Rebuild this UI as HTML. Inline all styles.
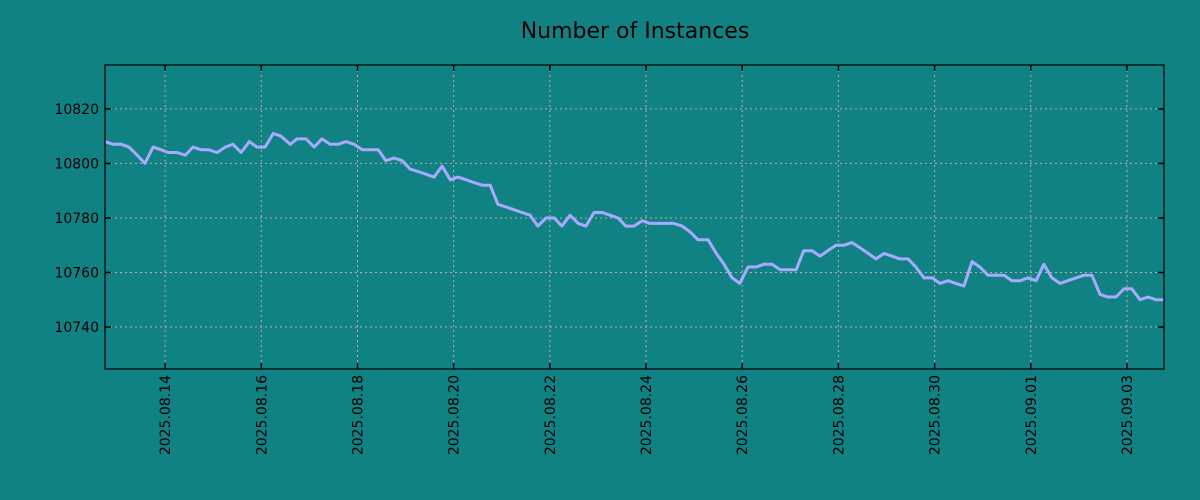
<!DOCTYPE html>
<html><head><meta charset="utf-8"><style>
html,body{margin:0;padding:0;background:#108284;}
svg{display:block;font-family:"DejaVu Sans","Liberation Sans",sans-serif;}
</style></head><body>
<svg width="1200" height="500" viewBox="0 0 1200 500" xmlns="http://www.w3.org/2000/svg">
<rect x="0" y="0" width="1200" height="500" fill="#108284"/>
<text x="635" y="38" text-anchor="middle" font-size="22" fill="#000">Number of Instances</text>
<g id="grid"></g>
<g id="series"></g>
<g id="axes"></g>
</svg>
<script>
const dayOffsets=[-1.25,-1.08,-0.91,-0.75,-0.58,-0.42,-0.25,-0.08,0.06,0.25,0.42,0.58,0.75,0.91,1.08,1.25,1.41,1.58,1.75,1.91,2.08,2.25,2.41,2.60,2.74,2.93,3.10,3.26,3.43,3.60,3.76,3.93,4.10,4.26,4.43,4.59,4.76,4.93,5.09,5.26,5.43,5.59,5.76,5.93,6.09,6.26,6.42,6.59,6.76,6.92,7.09,7.26,7.42,7.59,7.75,7.92,8.09,8.25,8.42,8.59,8.75,8.92,9.09,9.25,9.42,9.58,9.75,9.92,10.08,10.25,10.42,10.58,10.75,10.91,11.08,11.29,11.46,11.62,11.79,11.95,12.12,12.29,12.45,12.62,12.79,12.95,13.12,13.28,13.45,13.62,13.78,13.95,14.12,14.28,14.45,14.62,14.78,14.95,15.11,15.28,15.45,15.61,15.78,15.95,16.11,16.28,16.44,16.61,16.78,16.94,17.11,17.28,17.44,17.61,17.78,17.94,18.11,18.27,18.44,18.61,18.77,18.94,19.11,19.27,19.44,19.60,19.77,19.94,20.10,20.27,20.44,20.60,20.77];
const instances=[10808,10807,10807,10806,10803,10800,10806,10805,10804,10804,10803,10806,10805,10805,10804,10806,10807,10804,10808,10806,10806,10811,10810,10807,10809,10809,10806,10809,10807,10807,10808,10807,10805,10805,10805,10801,10802,10801,10798,10797,10796,10795,10799,10794,10795,10794,10793,10792,10792,10785,10784,10783,10782,10781,10777,10780,10780,10777,10781,10778,10777,10782,10782,10781,10780,10777,10777,10779,10778,10778,10778,10778,10777,10775,10772,10772,10767,10763,10758,10756,10762,10762,10763,10763,10761,10761,10761,10768,10768,10766,10768,10770,10770,10771,10769,10767,10765,10767,10766,10765,10765,10762,10758,10758,10756,10757,10756,10755,10764,10762,10759,10759,10759,10757,10757,10758,10757,10763,10758,10756,10757,10758,10759,10759,10752,10751,10751,10754,10754,10750,10751,10750,10750];
const yTicks=[10740,10760,10780,10800,10820];
const xTickDays=[0,2,4,6,8,10,12,14,16,18,20];
const xTickLabels=["2025.08.14","2025.08.16","2025.08.18","2025.08.20","2025.08.22","2025.08.24","2025.08.26","2025.08.28","2025.08.30","2025.09.01","2025.09.03"];

const L=105,R=1164,T=65,B=369;
const xMin=-1.25,xMax=20.77,yMin=10724.6,yMax=10836.1;
const sx=d=>L+(d-xMin)/(xMax-xMin)*(R-L);
const sy=v=>B-(v-yMin)/(yMax-yMin)*(B-T);
const NS="http://www.w3.org/2000/svg";
function mk(tag,attrs,parent){const e=document.createElementNS(NS,tag);for(const k in attrs)e.setAttribute(k,attrs[k]);parent.appendChild(e);return e;}
const grid=document.getElementById('grid'),axes=document.getElementById('axes'),series=document.getElementById('series');
const gridCol="#c8a8a0";
yTicks.forEach(v=>{const y=sy(v);
 const g=mk('line',{x1:L,x2:R,y1:y,y2:y,stroke:gridCol,'stroke-width':1,'stroke-dasharray':'2,3'},grid);
 
 const t1=mk('line',{x1:L,x2:L+6,y1:y,y2:y,stroke:'#000','stroke-width':1.5},axes);
 
 const t2=mk('line',{x1:R-6,x2:R,y1:y,y2:y,stroke:'#000','stroke-width':1.5},axes);
 
 const tx=mk('text',{x:L-6,y:y+5,'text-anchor':'end','font-size':14,fill:'#000'},axes);tx.textContent=v;
 
});
xTickDays.forEach((d,i)=>{const x=sx(d);
 const g=mk('line',{x1:x,x2:x,y1:T,y2:B,stroke:gridCol,'stroke-width':1,'stroke-dasharray':'2,3'},grid);
 
 const t1=mk('line',{x1:x,x2:x,y1:B-6,y2:B,stroke:'#000','stroke-width':1.5},axes);
 
 const t2=mk('line',{x1:x,x2:x,y1:T,y2:T+6,stroke:'#000','stroke-width':1.5},axes);
 
 const tx=mk('text',{x:0,y:0,'text-anchor':'end','font-size':14,fill:'#000',transform:`translate(${x+5},${B+6}) rotate(-90)`},axes);tx.textContent=xTickLabels[i];
 
});
const fr=mk('rect',{x:L,y:T,width:R-L,height:B-T,fill:'none',stroke:'#000','stroke-width':1.2},axes);

const pts=dayOffsets.map((d,i)=>sx(d).toFixed(1)+','+sy(instances[i]).toFixed(1)).join(' ');
const pl=mk('polyline',{points:pts,fill:'none',stroke:'#a8aaff','stroke-width':3,'stroke-linejoin':'round'},series);

</script>
</body></html>
